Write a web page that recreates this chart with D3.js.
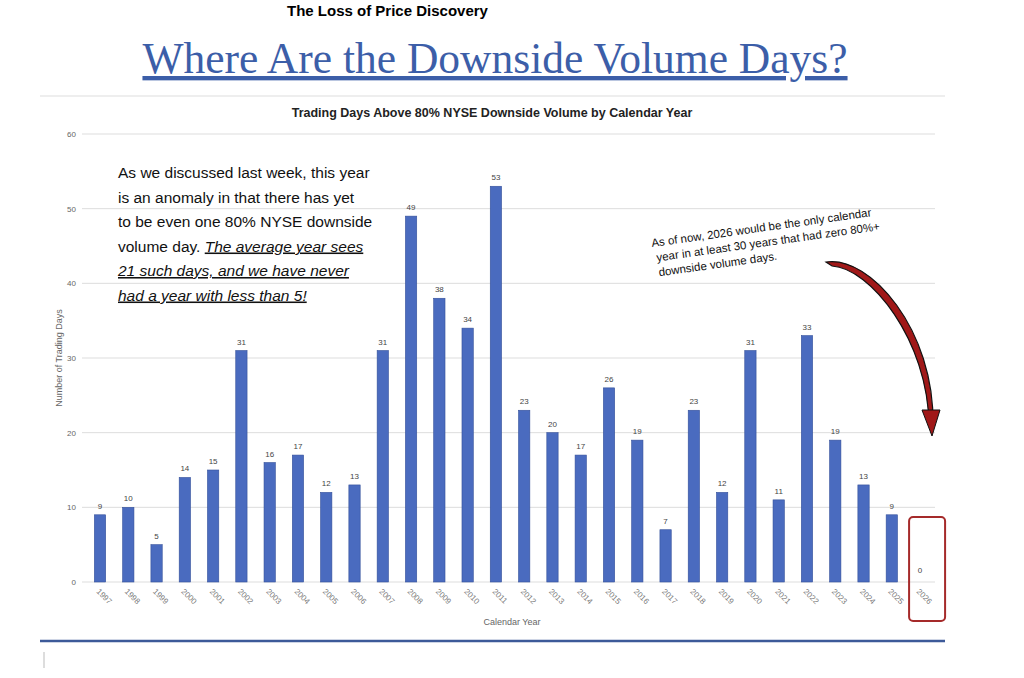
<!DOCTYPE html>
<html><head><meta charset="utf-8">
<script src="https://cdn.jsdelivr.net/npm/d3@7"></script>
<style>body{margin:0;background:#fff}svg{display:block}</style>
</head><body>
<script>
var data = [
  {year: 1997, days: 9}, {year: 1998, days: 10}, {year: 1999, days: 5},
  {year: 2000, days: 14}, {year: 2001, days: 15}, {year: 2002, days: 31},
  {year: 2003, days: 16}, {year: 2004, days: 17}, {year: 2005, days: 12},
  {year: 2006, days: 13}, {year: 2007, days: 31}, {year: 2008, days: 49},
  {year: 2009, days: 38}, {year: 2010, days: 34}, {year: 2011, days: 53},
  {year: 2012, days: 23}, {year: 2013, days: 20}, {year: 2014, days: 17},
  {year: 2015, days: 26}, {year: 2016, days: 19}, {year: 2017, days: 7},
  {year: 2018, days: 23}, {year: 2019, days: 12}, {year: 2020, days: 31},
  {year: 2021, days: 11}, {year: 2022, days: 33}, {year: 2023, days: 19},
  {year: 2024, days: 13}, {year: 2025, days: 9}, {year: 2026, days: 0}
]

var svg = d3.select('body').append('svg').attr('width', 1024).attr('height', 678)
  .style('font-family', 'Liberation Sans, Arial, sans-serif')

svg.append('text').attr('x', 287).attr('y', 16).attr('font-size', 15).attr('font-weight', 'bold')
  .text('The Loss of Price Discovery')

svg.append('text').attr('x', 495).attr('y', 73).attr('text-anchor', 'middle')
  .attr('font-family', 'Liberation Serif, serif').attr('font-size', 43.5).attr('fill', '#3c5ea8')
  .attr('text-decoration', 'underline').text('Where Are the Downside Volume Days?')

// frame lines
svg.append('line').attr('x1', 40).attr('x2', 945).attr('y1', 96).attr('y2', 96).attr('stroke', '#ddd')
svg.append('line').attr('x1', 40).attr('x2', 945).attr('y1', 641).attr('y2', 641).attr('stroke', '#3d5a99').attr('stroke-width', 2.5)
svg.append('line').attr('x1', 44).attr('x2', 44).attr('y1', 652).attr('y2', 668).attr('stroke', '#bbb')

svg.append('text').attr('x', 492).attr('y', 117).attr('text-anchor', 'middle')
  .attr('font-size', 12.5).attr('font-weight', 'bold').attr('fill', '#222')
  .text('Trading Days Above 80% NYSE Downside Volume by Calendar Year')

var x = d3.scaleBand().domain(data.map(d => d.year)).range([88.7, 931.4])
  .paddingInner(0.6).paddingOuter(0.2)
var y = d3.scaleLinear().domain([0, 60]).range([582, 134])

var grid = svg.append('g')
grid.selectAll('line').data(y.ticks(6)).enter().append('line')
  .attr('x1', 82).attr('x2', 935).attr('y1', d => y(d)).attr('y2', d => y(d))
  .attr('stroke', '#ddd')
grid.selectAll('text').data(y.ticks(6)).enter().append('text')
  .attr('x', 76).attr('y', d => y(d) + 3).attr('text-anchor', 'end')
  .attr('font-size', 8).attr('fill', '#666').text(d => d)

svg.append('g').selectAll('rect').data(data).enter().append('rect')
  .attr('x', d => x(d.year)).attr('width', x.bandwidth())
  .attr('y', d => y(d.days)).attr('height', d => y(0) - y(d.days))
  .attr('fill', '#4a6bbf').attr('stroke', '#34509a').attr('stroke-width', 0.6)

svg.append('g').selectAll('text').data(data).enter().append('text')
  .attr('x', d => x(d.year) + x.bandwidth() / 2)
  .attr('y', d => d.days === 0 ? y(0) - 9 : y(d.days) - 6)
  .attr('text-anchor', 'middle').attr('font-size', 8).attr('fill', '#444')
  .text(d => d.days)

svg.append('g').selectAll('text').data(data).enter().append('text')
  .attr('transform', d => 'translate(' + (x(d.year) + x.bandwidth() / 2 - 4) + ',592) rotate(45)')
  .attr('font-size', 8).attr('fill', '#777').text(d => d.year)

svg.append('text').attr('x', 512).attr('y', 625).attr('text-anchor', 'middle')
  .attr('font-size', 9).attr('fill', '#666').text('Calendar Year')
svg.append('text').attr('transform', 'translate(62,358) rotate(-90)').attr('text-anchor', 'middle')
  .attr('font-size', 9).attr('fill', '#666').text('Number of Trading Days')

// commentary box
var lines = [
  ['As we discussed last week, this year'],
  ['is an anomaly in that there has yet'],
  ['to be even one 80% NYSE downside'],
  ['volume day. ', 'The average year sees'],
  ['21 such days, and we have never'],
  ['had a year with less than 5!']
]
var note = svg.append('text').attr('font-family', 'Liberation Sans, Arial, sans-serif')
  .attr('font-size', 15.5).attr('fill', '#111')
lines.forEach(function (l, i) {
  var t = note.append('tspan').attr('x', 118).attr('y', 178 + i * 24.5)
  if (i < 3) t.text(l[0])
  else if (i === 3) {
    t.text(l[0])
    note.append('tspan').attr('font-style', 'italic').attr('text-decoration', 'underline').text(l[1])
  } else t.attr('font-style', 'italic').attr('text-decoration', 'underline').text(l[0])
})

// right annotation
var ann = svg.append('text').attr('transform', 'translate(652,247) rotate(-8)')
  .attr('font-size', 11.5).attr('fill', '#111')
;['As of now, 2026 would be the only calendar', 'year in at least 30 years that had zero 80%+', 'downside volume days.']
  .forEach((s, i) => ann.append('tspan').attr('x', i ? 3 : 0).attr('dy', i ? 15 : 0).text(s))

svg.append('path')
  .attr('d', 'M826,262 C870,255 935,330 933,425 L929,425 C928,340 870,268 832,266 Z')
  .attr('fill', '#a01818').attr('stroke', '#111').attr('stroke-width', 1.2)
svg.append('path').attr('d', 'M922,410 L940,410 L932,436 Z')
  .attr('fill', '#a01818').attr('stroke', '#111').attr('stroke-width', 1)

var cx26 = x(2026) + x.bandwidth() / 2
svg.append('rect').attr('x', cx26 - 11).attr('y', 517).attr('width', 36).attr('height', 104)
  .attr('rx', 4).attr('fill', 'none').attr('stroke', '#a52a2a').attr('stroke-width', 2)
</script>
</body></html>
